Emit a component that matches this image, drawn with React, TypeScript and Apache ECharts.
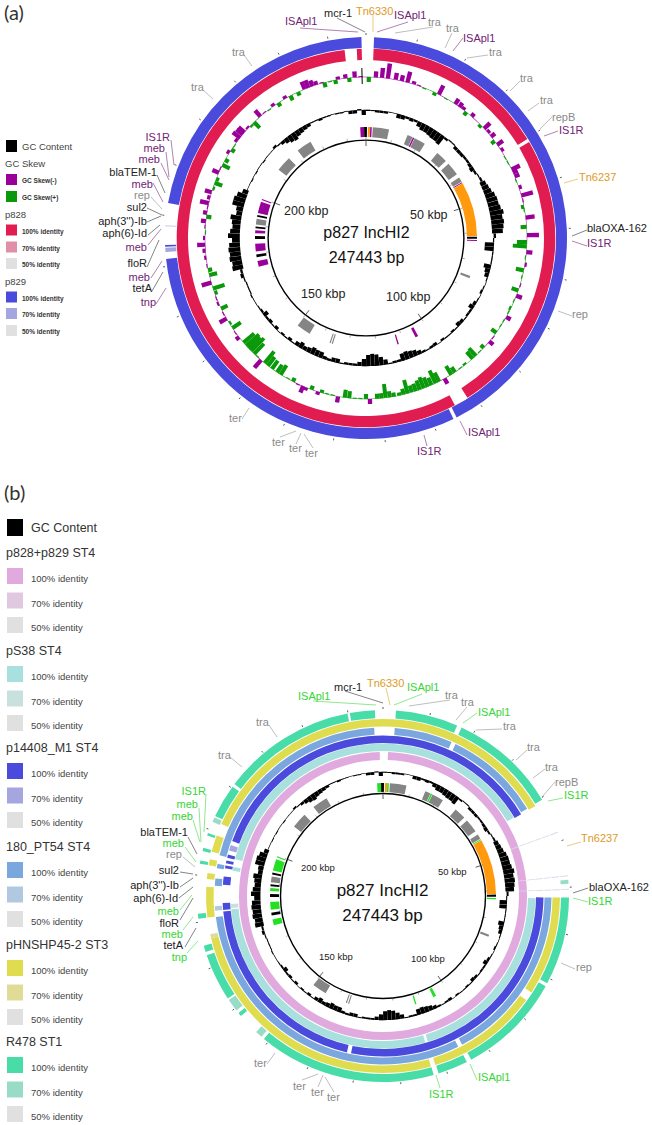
import React, { useEffect, useRef } from "react";
import * as echarts from "echarts";

// ---------- data ----------
const GENOME_KBP = 247.443;
const kb = (deg: number) => (((deg % 360) + 360) % 360) / 360 * GENOME_KBP;

const gcContent2deg = [
  -1,-1,-2,-2,-2,0,0,-4,-4,-2,
  -3,-2,-5,-7,-7,-8,-9,-9,-10,-2,
  1,1,-3,-3,-3,-2,-2,-3,-4,-2,
  1,2,4,5,6,8,9,9,10,12,
  10,11,10,9,2,-1,-9,-9,-1,-1,
  -1,-7,-5,-4,-1,0,-1,-2,0,-1,
  -3,-5,-2,-2,-1,-3,-4,-1,-2,-1,
  -1,-2,0,-3,-2,-1,-2,-4,-6,-7,
  -8,-7,-2,-2,-1,-5,-8,-11,-12,-11,
  -7,-4,-2,-2,-2,-1,-4,-4,-2,-3,
  -6,-6,-7,-5,-4,-6,-4,-1,-3,-1,
  -2,0,-3,-1,-3,-2,-5,-2,-1,0,
  0,1,-1,-1,-1,1,3,2,9,8,
  10,9,10,9,6,10,8,6,7,9,
  4,5,10,10,8,4,0,0,-1,0,
  -1,0,0,-1,0,0,0,2,-1,-3,
  -5,-7,-8,-6,-5,-4,-3,-1,-1,-2,
  -1,-1,0,-1,-1,0,-3,-3,1,-5,
];

const skewDeg = [1,3.5,5.7,7.8,10.6,12.8,14.9,17.2,19.2,21.3,25.4,26.9,29.9,33.7,35.5,37,38.6,41,45.5,47.2,49,51,53,54.6,57,60,62,64.8,66,67.5,69,71.7,74.7,76.5,78.8,80,82.7,86,89,91.5,93,95,97,99.5,101.6,104,107,109,111,113,115.9,117.5,119.4,121,123,126,128,130,133,135,137,138.5,142,144,146.5,148,150.8,153,154.4,156,157.5,159,160.5,162,163.5,165,166.5,168,170,171.5,173,174.5,176,178.6,180,182,184,186,187.6,190,192,194,196,197.3,199.8,201.8,203,205,207,209,212,213.5,215.7,217.5,219,220.7,222.5,224,225.5,226.8,228,229.5,232,234,236,238,240,242,244,246,248,250,251.7,253.9,256.7,258.5,260,263,265.5,267.6,270,272,274,276,277.6,279,281,282.5,284.5,286.5,288,290,291.5,293.9,295.5,297,299,302,303.3,305,307,308.5,310,311,313,314.5,316,319,321,323,325,327,330,332,335,337.6,339,340.5,342,344,345,347,349,350,352.7,354,356,358];
const skewVal = [-5,6,10,15,7,6,11,3,1,-1,-3,10,-1,6,5,3,-4,4,-3,8,3,5,-4,7,3,-1,-1,9,5,5,-1,3,12,1,-3,-1,9,-6,12,-10,-14,6,-1,2,-8,-1,1,-7,6,-1,-2,-1,5,-1,-1,-6,1,5,-4,-1,-10,-9,-2,-1,-6,-10,6,-10,-14,-8,-10,-12,-10,-8,-7,-14,-6,-3,-4,-6,-14,-5,-5,5,-5,-1,-1,-7,-8,6,-1,-1,-3,3,-4,3,7,1,-4,-1,-11,-9,-10,-11,-15,10,-1,-14,-18,-16,-17,-14,4,1,-10,-2,8,1,-7,2,1,-3,-12,10,-8,-4,1,2,3,8,2,-1,1,5,-5,4,1,9,3,7,-2,-8,-3,7,1,-8,-4,3,-4,-1,3,9,8,8,2,-2,-8,8,1,-1,3,-4,3,-5,-4,8,8,6,4,1,-5,-1,-4,3,4,-4,6,1];

// feature blocks on the inner ring: [start, end] in degrees round the map
const featGray = [[3.5,12],[22,24.8],[26,32],[40,46],[48,55],[57,59.5],[110,111.2],[197.4,198],[198.6,199.2],[210.5,218],[277,280],[308,316],[322,330]];
const featIS = [[357,359],[2.2,3],[25,25.8],[59.8,60.3],[91,91.6],[152,153.5],[162.8,163.5],[255,258],[263,267],[272.5,274],[283,289],[290,290.6]];
const featBlack = [[359,360],[0,0.5],[89.3,90.4],[260,261.5],[269.5,271],[275,276],[281,282]];
const featOrange = [[1,2.1],[60.5,89]];

// panel (a) identity spans
const p829Full = [[2.3,153.2],[154.2,264],[267.5,268],[280,358.7]];
const p829Mid = [[266,267.2]];
const p829Low = [[273.3,273.7]];
const p828Full = [[2.3,58.5],[59.5,147.6],[152,353.5],[357.2,358.7]];

// panel (b) identity spans
const p828p829Full = [[2,358.7]];
const pS38Full = [[284,59],[90.8,162.9],[163.9,265],[279.5,281]];
const pS38Mid = [[265.5,267]];
const p14408Full = [[290,59.4],[90.5,191.5],[193,264.5],[265,267.5],[274,277],[280,281],[281.8,282.8],[283.8,285]];
const p14408Mid = [[286.5,288.5]];
const pt54Full = [[284,357],[4,24],[25.5,58.8],[90.5,152],[153.5,262.8],[273.5,276],[279.5,281]];
const pt54Mid = [[265,266.5]];
const hnshpFull = [[294,59.4],[90.5,123],[126,162.8],[164.3,256.2],[263,273],[275.5,277.5],[280,282],[284.5,290]];
const hnshpMid = [[256.2,257.5]];
const r478Full = [[295.5,306],[307,349],[349.7,357.5],[4,23.5],[25,58.8],[90.5,118],[119,151.7],[153.2,162.6],[164.2,219.8],[229.8,231],[236.6,251.4],[252.5,254.5],[263,264.5],[280,281],[284,285],[289,289.8]];
const r478Mid = [[220.8,223],[232,236],[293.5,295],[85,86.2]];
const faintSpans = [[69.8,70.1],[83.6,83.9],[87.8,88.1]];

const tick10kbp = [0,10,20,30,40,50,60,70,80,90,100,110,120,130,140,150,160,170,180,190,200,210,220,230,240];
const tick50kbp = [0,50,100,150,200];

type Label = [string, number, number, string, "l" | "r", number, number, number, number];
const labelsA: Label[] = [
  ["ISApl1",285,21,"is","l",300,28,358,32],["mcr-1",324,13,"res","l",337,18,365,32],["Tn6330",356,11,"tn","l",373,15,373,32],
  ["ISApl1",394,15,"is","l",408,22,377,32],["tra",428,22,"oth","l",433,27,395,33],["tra",446,28,"oth","l",452,33,445,48],
  ["ISApl1",463,38,"is","l",463,38,453,51],["tra",489,52,"oth","l",488,55,467,58],["tra",520,78,"oth","l",520,81,510,91],
  ["tra",540,100,"oth","l",539,103,528,111],["repB",552,117,"oth","l",552,117,540,129],["IS1R",559,130,"is","l",558,131,544,136],
  ["Tn6237",579,177,"tn","l",578,179,564,183],["blaOXA-162",587,228,"res","l",587,230,572,236],["IS1R",587,243,"is","l",587,246,572,241],
  ["rep",572,314,"oth","l",572,316,558,311],["ISApl1",468,432,"is","l",467,435,460,421],["IS1R",417,451,"is","l",427,446,424,435],
  ["ter",229,418,"oth","l",242,419,249,408],["ter",272,442,"oth","l",280,437,296,431],["ter",289,448,"oth","l",296,444,301,433],["ter",305,453,"oth","l",313,448,304,434],
  ["tnp",156,302,"is","r",156,304,166,288],["tetA",152,288,"res","r",152,291,163,272],["meb",150,277,"is","r",151,278,162,261],
  ["floR",147,263,"res","r",147,267,159,240],["meb",147,247,"is","r",148,245,161,229],["aph(6)-Id",147,233,"res","r",148,235,160,225],
  ["aph(3'')-Ib",147,221,"res","r",147,222,161,216],["sul2",147,207,"res","r",147,208,162,215],["rep",150,195,"oth","r",151,197,162,209],
  ["meb",153,184,"is","r",153,183,163,202],["blaTEM-1",157,172,"res","r",157,175,165,193],["meb",160,159,"is","r",161,163,169,180],
  ["meb",165,148,"is","r",166,152,169,177],["IS1R",170,137,"is","r",171,140,174,165],["tra",191,87,"oth","l",203,90,213,99],["tra",232,52,"oth","l",244,55,252,66],
];
const labelsB: Label[] = [
  ["ISApl1",298,696,"is","l",313,701,376,705],["mcr-1",334,687,"res","l",345,691,383,703],["Tn6330",367,683,"tn","l",386,688,390,705],
  ["ISApl1",407,687,"is","l",422,694,394,705],["tra",445,695,"oth","l",450,700,409,706],["tra",461,702,"oth","l",467,707,456,720],
  ["ISApl1",478,712,"is","l",477,713,463,723],["tra",503,726,"oth","l",502,729,476,730],["tra",527,747,"oth","l",527,750,516,760],
  ["tra",545,767,"oth","l",545,769,533,778],["repB",555,782,"oth","l",555,782,542,797],["IS1R",564,795,"is","l",563,798,548,801],
  ["Tn6237",581,838,"tn","l",581,842,567,846],["blaOXA-162",589,887,"res","l",588,888,573,893],["IS1R",588,901,"is","l",588,902,573,898],
  ["rep",576,967,"oth","l",575,969,561,963],["ISApl1",478,1077,"is","l",477,1080,470,1064],["IS1R",429,1094,"is","l",440,1088,436,1075],
  ["ter",254,1063,"oth","l",267,1064,275,1053],["ter",293,1086,"oth","l",302,1080,318,1074],["ter",311,1092,"oth","l",318,1087,323,1075],["ter",327,1097,"oth","l",334,1092,325,1077],
  ["tnp",187,957,"is","r",187,953,198,941],["tetA",183,945,"res","r",185,947,196,928],["meb",183,934,"is","r",183,930,193,917],
  ["floR",179,923,"res","r",180,920,193,898],["meb",179,911,"is","r",180,910,192,895],["aph(6)-Id",178,898,"res","r",179,898,193,887],
  ["aph(3'')-Ib",179,885,"res","r",180,887,193,878],["sul2",179,870,"res","r",180,872,193,874],["rep",182,854,"oth","r",183,857,195,867],
  ["meb",184,843,"is","r",185,847,196,862],["blaTEM-1",188,832,"res","r",188,837,197,854],["meb",193,816,"is","r",193,820,200,842],
  ["meb",198,804,"is","r",199,808,201,842],["IS1R",206,791,"is","r",206,794,204,832],["tra",218,755,"oth","l",230,757,242,767],["tra",256,722,"oth","l",269,725,277,737],
];

const legendA = [
  { head: "GC Skew", y: 163, items: [["GC Skew(-)", "#990099", 179], ["GC Skew(+)", "#0a990a", 196]] },
  { head: "p828", y: 214, items: [["100% identity", "#e01c50", 229.5], ["70% identity", "#e08fa8", 246.5], ["50% identity", "#e0e0e0", 263]] },
  { head: "p829", y: 281, items: [["100% identity", "#4a4adc", 296.5], ["70% identity", "#a5a5e0", 313], ["50% identity", "#e0e0e0", 330]] },
];
const legendBHeads = ["p828+p829 ST4", "pS38 ST4", "p14408_M1 ST4", "180_PT54 ST4", "pHNSHP45-2 ST3", "R478 ST1"];
const legendBHeadY = [553, 651, 748, 847, 945, 1042];
const legendBFull = ["#e0aadf", "#a8e0de", "#4a4adc", "#7aa8de", "#e0dc50", "#48dca8"];
const legendBMid = ["#e0c8e0", "#c8e0de", "#a5a5e0", "#b0c8e0", "#e0dc98", "#98dcc8"];

const labelColors: any = { is: "#6f2374", res: "#222222", tn: "#e09a1e", oth: "#8a8a8a" };
const labelColorsB: any = { is: "#35d635", res: "#222222", tn: "#e09a1e", oth: "#8a8a8a" };
const FONT = "'Liberation Sans', Arial, sans-serif";

// ---------- renderers ----------
const renderArc = (color: string) => (params: any, api: any) => {
  const cs = params.coordSys;
  const a0 = api.value(0), a1 = api.value(1), r0 = api.value(2), r1 = api.value(3);
  const p0 = api.coord([r1, a0]), p1 = api.coord([r1, a1]), q0 = api.coord([r0, a0]);
  const sa = Math.atan2(p0[1] - cs.cy, p0[0] - cs.cx);
  let ea = Math.atan2(p1[1] - cs.cy, p1[0] - cs.cx);
  if (ea <= sa) ea += Math.PI * 2;
  return {
    type: "sector",
    shape: {
      cx: cs.cx, cy: cs.cy,
      r: Math.hypot(p0[0] - cs.cx, p0[1] - cs.cy),
      r0: Math.hypot(q0[0] - cs.cx, q0[1] - cs.cy),
      startAngle: sa, endAngle: ea, clockwise: true,
    },
    style: { fill: color },
  };
};
const renderTick = (color: string, width: number) => (_: any, api: any) => {
  const a = api.coord([api.value(1), api.value(0)]);
  const b = api.coord([api.value(2), api.value(0)]);
  return { type: "line", shape: { x1: a[0], y1: a[1], x2: b[0], y2: b[1] }, style: { stroke: color, lineWidth: width } };
};
const custom = (polarIndex: number, data: number[][], renderItem: any) => ({
  type: "custom", coordinateSystem: "polar", polarIndex, data, renderItem, silent: true, clip: false,
  encode: { angle: 0, radius: 2 },
});
const arcSeries = (pi: number, spans: number[][], r0: number, r1: number, color: string) =>
  custom(pi, spans.map(([s, e]) => [kb(s), kb(e), r0, r1]), renderArc(color));
const tickSeries = (pi: number, list: number[], r0: number, r1: number, color: string, w: number) =>
  custom(pi, list.map((t) => [t, r0, r1]), renderTick(color, w));

const gcSeries = (pi: number, base: number, scale: number) => {
  const rows = gcContent2deg.map((v, i) => {
    const d = i * 2;
    const r0 = v > 3 ? base - 1.8 * scale : v >= 0 ? base - 0.2 : base + v * scale;
    const r1 = v >= 0 ? base + Math.max(v, 0.4) * scale : base + 0.2;
    return [kb(d), kb(d + 1.95), r0, r1];
  });
  return [
    arcSeries(pi, [[0, 180], [180, 360]], base - 0.2, base + 0.2, "#666666"),
    custom(pi, rows, renderArc("#000000")),
  ];
};
const featureSeries = (pi: number, r0: number, r1: number, isColor: string) => [
  arcSeries(pi, featGray, r0, r1, "#858585"),
  arcSeries(pi, featIS, r0, r1, isColor),
  arcSeries(pi, featBlack, r0, r1, "#000000"),
  arcSeries(pi, featOrange, r0, r1, "#ff9a0e"),
];
const skewSeries = (pi: number, base: number) => {
  const line = (sign: number) =>
    skewDeg.map((d, i) => (Math.sign(skewVal[i]) === sign ? [d, skewDeg[(i + 1) % skewDeg.length]] : null)).filter(Boolean) as number[][];
  const bars = (sign: number) =>
    skewDeg.map((d, i) => ({ d, v: skewVal[i] })).filter((x) => Math.sign(x.v) === sign)
      .map(({ d, v }) => [kb(d - 0.75), kb(d + 0.75), v > 0 ? base : base + v, v > 0 ? base + v : base]);
  return [
    arcSeries(pi, line(-1), base - 0.25, base + 0.25, "#0a990a"),
    arcSeries(pi, line(1), base - 0.25, base + 0.25, "#990099"),
    custom(pi, bars(-1), renderArc("#0a990a")),
    custom(pi, bars(1), renderArc("#990099")),
  ];
};

// ---------- graphic helpers ----------
const txt = (text: string, x: number, y: number, size: number, fill: string, align = "left", family = FONT, weight: any = "normal") => ({
  type: "text", silent: true, x, y, z: 20,
  style: { text, fill, font: `${weight} ${size}px ${family}`, align, verticalAlign: "middle", textAlign: align, textVerticalAlign: "middle" },
});
const box = (x: number, y: number, w: number, h: number, fill: string) => ({
  type: "rect", silent: true, shape: { x, y, width: w, height: h }, style: { fill },
});
const leader = (x1: number, y1: number, x2: number, y2: number, stroke: string) => ({
  type: "line", silent: true, z: 10, shape: { x1, y1, x2, y2 }, style: { stroke, lineWidth: 0.7, opacity: 0.8 },
});
const labelEls = (list: Label[], colors: any, size: number) =>
  list.flatMap(([t, x, y, c, al, x1, y1, x2, y2]) => [
    txt(t, x, y, size, colors[c], al === "r" ? "right" : "left"),
    leader(x1, y1, x2, y2, colors[c]),
  ]);

const buildOption = () => {
  const graphics: any[] = [
    txt("(a)", 4, 12, 20, "#333333", "left", "Lato"),
    txt("(b)", 4, 492, 20, "#333333", "left", "Lato"),
    // panel a legend
    box(6, 140, 11, 12, "#000000"),
    txt("GC Content", 22, 146, 9.5, "#444444"),
    ...legendA.flatMap((g) => [
      txt(g.head, 5, g.y, 9.5, "#444444"),
      ...g.items.flatMap(([name, color, y]: any) => [box(6, y - 5, 11, 11, color), txt(name, 22, y + 1.5, 6.5, "#333333", "left", FONT, "bold")]),
    ]),
    // panel b legend
    box(7, 519, 16, 17, "#000000"),
    txt("GC Content", 31, 528, 12.5, "#333333"),
    ...legendBHeads.flatMap((h, i) => {
      const y = legendBHeadY[i];
      return [
        txt(h, 6, y, 12.5, "#333333"),
        box(7, y + 15, 16, 16, legendBFull[i]), txt("100% identity", 31, y + 25.5, 9.5, "#444444"),
        box(7, y + 39.5, 16, 16, legendBMid[i]), txt("70% identity", 31, y + 50, 9.5, "#444444"),
        box(7, y + 64, 16, 16, "#e0e0e0"), txt("50% identity", 31, y + 74, 9.5, "#444444"),
      ];
    }),
    // centre texts
    txt("p827 IncHI2", 366.5, 232, 16, "#111111", "center"),
    txt("247443 bp", 366.5, 257, 16, "#111111", "center"),
    txt("p827 IncHI2", 382.5, 890, 17, "#111111", "center"),
    txt("247443 bp", 382.5, 915, 17, "#111111", "center"),
    txt("200 kbp", 284, 211, 12.5, "#222222"),
    txt("50 kbp", 410, 215, 12.5, "#222222"),
    txt("150 kbp", 301, 294, 12.5, "#222222"),
    txt("100 kbp", 386, 297, 12.5, "#222222"),
    txt("200 kbp", 301, 867, 9.5, "#222222"),
    txt("50 kbp", 438, 871, 9.5, "#222222"),
    txt("150 kbp", 319, 956, 9.5, "#222222"),
    txt("100 kbp", 411, 958, 9.5, "#222222"),
    ...labelEls(labelsA, labelColors, 11),
    ...labelEls(labelsB, labelColorsB, 11),
  ];

  const rb = [
    { r0: 136, r1: 144, full: p828p829Full, mid: [] as number[][], c: legendBFull[0], m: legendBMid[0] },
    { r0: 145, r1: 152.5, full: pS38Full, mid: pS38Mid, c: legendBFull[1], m: legendBMid[1] },
    { r0: 153, r1: 160.5, full: p14408Full, mid: p14408Mid, c: legendBFull[2], m: legendBMid[2] },
    { r0: 161.5, r1: 168.5, full: pt54Full, mid: pt54Mid, c: legendBFull[3], m: legendBMid[3] },
    { r0: 169.5, r1: 177, full: hnshpFull, mid: hnshpMid, c: legendBFull[4], m: legendBMid[4] },
    { r0: 178, r1: 186, full: r478Full, mid: r478Mid, c: legendBFull[5], m: legendBMid[5] },
  ];

  const series: any[] = [
    // panel (a)
    arcSeries(0, p829Full, 190, 201, "#4a4adc"),
    arcSeries(0, p829Mid, 190, 201, "#a5a5e0"),
    arcSeries(0, p829Low, 190, 201, "#d8d8ee"),
    arcSeries(0, p828Full, 178, 189.3, "#e01c50"),
    tickSeries(0, tick10kbp, 203, 205, "#333333", 0.8),
    ...skewSeries(0, 161),
    tickSeries(0, [kb(358.6)], 154, 170, "#000000", 1),
    ...gcSeries(0, 128, 1),
    ...featureSeries(0, 101, 111, "#990099"),
    arcSeries(0, [[0, 180], [180, 360]], 97.2, 98.6, "#000000"),
    tickSeries(0, tick10kbp, 98.6, 101, "#777777", 0.6),
    tickSeries(0, tick50kbp, 92, 97.2, "#333333", 0.8),
    // panel (b)
    ...rb.flatMap((t) => [
      arcSeries(1, t.full, t.r0, t.r1, t.c),
      arcSeries(1, t.mid, t.r0, t.r1, t.m),
      arcSeries(1, faintSpans, t.r0, t.r1, "#dcd8e8"),
    ]),
    tickSeries(1, tick10kbp, 187, 189, "#333333", 0.8),
    ...gcSeries(1, 124, 0.8),
    ...featureSeries(1, 104, 113, "#22e022"),
    arcSeries(1, [[0, 180], [180, 360]], 101.8, 103.2, "#000000"),
    tickSeries(1, tick10kbp, 103.2, 105, "#777777", 0.6),
    tickSeries(1, tick50kbp, 97, 101.8, "#333333", 0.8),
  ];

  return {
    animation: false,
    backgroundColor: "#ffffff",
    polar: [
      { center: [366, 238], radius: [0, 215] },
      { center: [383, 896], radius: [0, 215] },
    ],
    angleAxis: [0, 1].map((polarIndex) => ({
      polarIndex, type: "value", min: 0, max: GENOME_KBP, startAngle: 90, clockwise: true, show: false,
    })),
    radiusAxis: [0, 1].map((polarIndex) => ({
      polarIndex, type: "value", min: 0, max: 215, show: false,
    })),
    graphic: { elements: graphics },
    series,
  };
};

export default function App() {
  const ref = useRef<HTMLDivElement>(null);
  useEffect(() => {
    const chart = echarts.init(ref.current!, undefined, { renderer: "svg" });
    chart.setOption(buildOption() as any);
    return () => chart.dispose();
  }, []);
  return <div ref={ref} style={{ position: "absolute", left: 0, top: 0, width: 652, height: 1125 }} />;
}
